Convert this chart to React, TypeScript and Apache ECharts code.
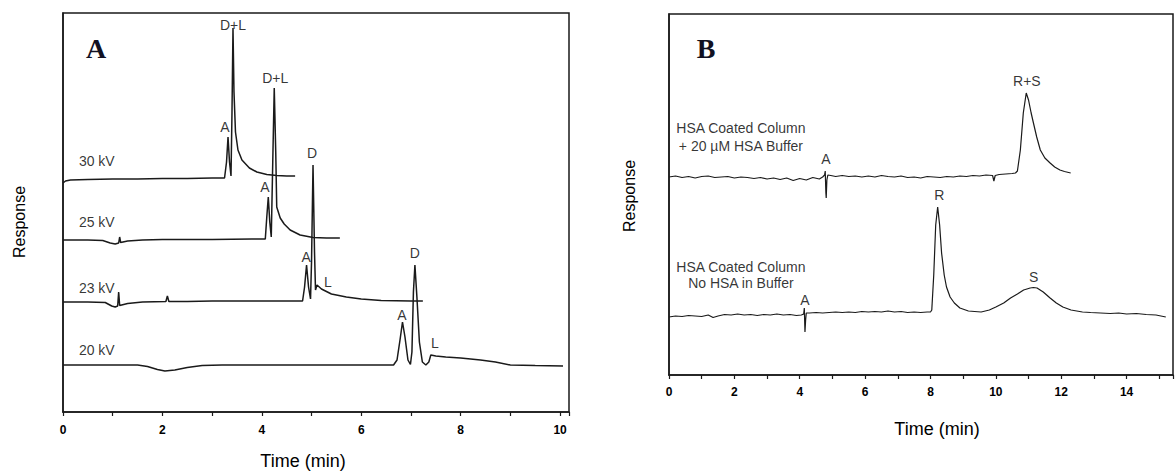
import React, { useEffect, useRef } from "react";
import * as echarts from "echarts";

// ---------- Panel A (time in min, response in arbitrary units) ----------
const trace30kV: [number, number][] = [
  [0, 229], [0.05, 231], [0.15, 232], [0.5, 232.5], [1.0, 233], [1.5, 233], [2.0, 233.5],
  [2.5, 233.5], [3.0, 234], [3.25, 234], [3.29, 250], [3.32, 275], [3.35, 250], [3.38, 236],
  [3.4, 300], [3.42, 384], [3.44, 320], [3.47, 280], [3.52, 262], [3.6, 252], [3.75, 244],
  [3.9, 240], [4.1, 237.5], [4.3, 236.5], [4.5, 236], [4.67, 236],
];
const trace25kV: [number, number][] = [
  [0, 172], [0.5, 172], [0.8, 171.5], [0.95, 169], [1.05, 168], [1.12, 169], [1.14, 175],
  [1.16, 169.5], [1.3, 171], [1.6, 172], [2, 172.5], [3, 172.5], [3.8, 173], [4.07, 173],
  [4.1, 195], [4.13, 215], [4.16, 190], [4.19, 175], [4.22, 250], [4.25, 324], [4.28, 260],
  [4.3, 205], [4.37, 194], [4.45, 188], [4.57, 182], [4.77, 177], [5.03, 174.5], [5.3, 174],
  [5.57, 174],
];
const trace23kV: [number, number][] = [
  [0, 110], [0.5, 110], [0.85, 109.5], [0.98, 106], [1.05, 105], [1.1, 106], [1.12, 120],
  [1.14, 106.5], [1.3, 108.5], [1.6, 110], [2.07, 110.5], [2.1, 116], [2.13, 110.5],
  [2.5, 110.5], [3, 111], [4, 111], [4.82, 111], [4.86, 125], [4.9, 147], [4.94, 125],
  [4.98, 113], [5.0, 150], [5.03, 247], [5.06, 160], [5.08, 122], [5.11, 127], [5.2, 123],
  [5.4, 118], [5.7, 115], [6.0, 113], [6.4, 111.5], [7.0, 111], [7.24, 111],
];
const trace20kV: [number, number][] = [
  [0, 47], [0.5, 47], [1.0, 47], [1.5, 47], [1.7, 45.5], [1.9, 42.5], [2.05, 41], [2.25, 42],
  [2.5, 44.5], [2.8, 46.5], [3.2, 47], [4, 47], [5, 47], [6, 47], [6.65, 47], [6.72, 52],
  [6.78, 72], [6.83, 90], [6.88, 75], [6.94, 52], [6.99, 47.5], [7.02, 60], [7.05, 120],
  [7.08, 147], [7.12, 115], [7.17, 70], [7.23, 50], [7.3, 47], [7.36, 50], [7.4, 57],
  [7.5, 56], [7.7, 55], [8.0, 54], [8.4, 52], [8.7, 50], [9.0, 47], [9.5, 46.5], [10.06, 46],
];
const notesA: { name: string; value: [number, number]; align: string }[] = [
  { name: "D+L", value: [3.42, 387], align: "center" },
  { name: "A", value: [3.26, 285], align: "center" },
  { name: "D+L", value: [4.27, 334], align: "center" },
  { name: "A", value: [4.06, 225], align: "center" },
  { name: "D", value: [5.01, 259], align: "center" },
  { name: "A", value: [4.89, 155], align: "center" },
  { name: "L", value: [5.33, 130], align: "center" },
  { name: "A", value: [6.82, 97], align: "center" },
  { name: "D", value: [7.08, 159], align: "center" },
  { name: "L", value: [7.48, 69], align: "center" },
  { name: "30 kV", value: [0.32, 251], align: "left" },
  { name: "25 kV", value: [0.32, 190], align: "left" },
  { name: "23 kV", value: [0.32, 124], align: "left" },
  { name: "20 kV", value: [0.32, 62], align: "left" },
];

// ---------- Panel B ----------
const traceWithHSA: [number, number][] = [
  [0, 198], [0.2, 199], [0.4, 197.5], [0.6, 198.5], [0.8, 197], [1.0, 198.5], [1.2, 199],
  [1.4, 197.5], [1.6, 198], [1.8, 198.5], [2.0, 197], [2.2, 198], [2.4, 197.5], [2.6, 196.5],
  [2.8, 197.5], [3.0, 196], [3.2, 197], [3.4, 195.5], [3.6, 197], [3.8, 194.5], [4.0, 196.5],
  [4.2, 195], [4.4, 197.5], [4.6, 196], [4.7, 198], [4.76, 200], [4.78, 204], [4.8, 182],
  [4.81, 177], [4.83, 195], [4.86, 200], [4.95, 199.5], [5.1, 198.5], [5.3, 199.5],
  [5.5, 198.5], [5.7, 199], [5.9, 198], [6.1, 199], [6.3, 198], [6.5, 199.5], [6.7, 198.5],
  [6.9, 198], [7.1, 199], [7.3, 197.5], [7.5, 198], [7.7, 197], [7.9, 198.5], [8.1, 198],
  [8.3, 197.5], [8.5, 198.5], [8.7, 198], [8.9, 199], [9.1, 198.5], [9.3, 199.5], [9.5, 199],
  [9.7, 200], [9.9, 199.5], [9.94, 194], [9.98, 199.5], [10.1, 200.5], [10.3, 201],
  [10.5, 201.5], [10.6, 202], [10.66, 204], [10.75, 225], [10.84, 262], [10.93, 282],
  [11.0, 275], [11.08, 262], [11.15, 252], [11.25, 238], [11.36, 225], [11.5, 217],
  [11.66, 212], [11.8, 208], [11.96, 205], [12.1, 203.5], [12.29, 202],
];
const traceNoHSA: [number, number][] = [
  [0, 58], [0.2, 59], [0.4, 58.5], [0.6, 59.5], [0.8, 59], [1.0, 58.5], [1.2, 60], [1.35, 57.5],
  [1.5, 59], [1.7, 60.5], [1.9, 60], [2.1, 61], [2.3, 60], [2.5, 60.5], [2.7, 59.5], [2.9, 60.5],
  [3.1, 60], [3.3, 61], [3.5, 60], [3.7, 60.5], [3.9, 59.5], [4.05, 60], [4.12, 61], [4.14, 67],
  [4.16, 43], [4.18, 55], [4.2, 62], [4.3, 62], [4.5, 62.5], [4.7, 62], [4.9, 62.5], [5.1, 63],
  [5.3, 62.5], [5.5, 63], [5.7, 62.5], [5.9, 63.5], [6.1, 63], [6.3, 63.5], [6.5, 63], [6.7, 64],
  [6.9, 63], [7.1, 63.5], [7.3, 62.5], [7.5, 63], [7.7, 62.5], [7.9, 63], [8.0, 63], [8.04, 65],
  [8.1, 100], [8.16, 150], [8.22, 168], [8.28, 150], [8.34, 122], [8.42, 100], [8.49, 88],
  [8.6, 78], [8.73, 72], [8.9, 67], [9.16, 64], [9.35, 63.5], [9.55, 63], [9.8, 65], [10.0, 68],
  [10.24, 72], [10.45, 77], [10.66, 81], [10.85, 85], [11.05, 87], [11.15, 87.5], [11.26, 87],
  [11.45, 83], [11.66, 77], [11.85, 72], [12.05, 68], [12.3, 65], [12.65, 63], [12.9, 62.5],
  [13.2, 62], [13.5, 61.5], [13.76, 62], [14.0, 61], [14.3, 61.5], [14.6, 60.5], [14.9, 60],
  [15.2, 58],
];
const notesB: { name: string; value: [number, number]; align: string }[] = [
  { name: "HSA Coated Column", value: [2.2, 247], align: "center" },
  { name: "+ 20 µM HSA Buffer", value: [2.2, 229], align: "center" },
  { name: "A", value: [4.8, 216], align: "center" },
  { name: "R+S", value: [10.95, 294], align: "center" },
  { name: "HSA Coated Column", value: [2.2, 108], align: "center" },
  { name: "No HSA in Buffer", value: [2.2, 92], align: "center" },
  { name: "A", value: [4.16, 75], align: "center" },
  { name: "R", value: [8.27, 180], align: "center" },
  { name: "S", value: [11.16, 98], align: "center" },
];

const SANS = "'Liberation Sans', Arial, Helvetica, sans-serif";
const SERIF = "'Liberation Serif', 'Times New Roman', serif";
const INK = "#1a1a1a";

function evenLabel(v: number) {
  return Number.isInteger(v) && v % 2 === 0 ? String(v) : "";
}

export default function App() {
  const ref = useRef<HTMLDivElement>(null);
  useEffect(() => {
    document.body.style.margin = "0";
    const chart = echarts.init(ref.current!, null, { renderer: "svg" });
    const xAxisCommon = {
      type: "value",
      interval: 1,
      axisLine: { show: true, onZero: false, lineStyle: { color: INK, width: 1.5 } },
      axisTick: { show: true, inside: false, length: 4, lineStyle: { color: INK, width: 1.2 } },
      axisLabel: { color: "#000", fontSize: 12, fontWeight: "bold", fontFamily: SANS, formatter: evenLabel },
      splitLine: { show: false },
    };
    const yAxisCommon = {
      type: "value",
      axisLine: { show: true, lineStyle: { color: INK, width: 1.5 } },
      axisTick: { show: false },
      axisLabel: { show: false },
      splitLine: { show: false },
    };
    const lineSeries = (data: [number, number][], idx: number, w: number) => ({
      type: "line",
      xAxisIndex: idx,
      yAxisIndex: idx,
      data,
      showSymbol: false,
      symbol: "none",
      lineStyle: { color: INK, width: w },
      silent: true,
      clip: false,
    });
    const noteSeries = (notes: typeof notesA, idx: number) => ({
      type: "scatter",
      xAxisIndex: idx,
      yAxisIndex: idx,
      symbolSize: 0,
      silent: true,
      data: notes.map((n) => ({
        name: n.name,
        value: n.value,
        label: {
          show: true,
          position: "inside",
          formatter: "{b}",
          align: n.align,
          verticalAlign: "middle",
          color: "#000",
          fontSize: 14,
          fontFamily: SANS,
        },
      })),
    });
    chart.setOption({
      animation: false,
      backgroundColor: "#fff",
      grid: [
        { left: 63, top: 13, width: 506, height: 399, show: true, borderColor: INK, borderWidth: 1.5, backgroundColor: "transparent" },
        { left: 669, top: 14, width: 511, height: 361, show: true, borderColor: INK, borderWidth: 1.5, backgroundColor: "transparent" },
      ],
      xAxis: [
        { ...xAxisCommon, gridIndex: 0, min: 0, max: 10.18, axisLabel: { ...xAxisCommon.axisLabel, margin: 12 } },
        { ...xAxisCommon, gridIndex: 1, min: 0, max: 15.42, axisLabel: { ...xAxisCommon.axisLabel, margin: 11 } },
      ],
      yAxis: [
        { ...yAxisCommon, gridIndex: 0, min: 0, max: 399 },
        { ...yAxisCommon, gridIndex: 1, min: 0, max: 361 },
      ],
      series: [
        lineSeries(trace30kV, 0, 1.5),
        lineSeries(trace25kV, 0, 1.5),
        lineSeries(trace23kV, 0, 1.5),
        lineSeries(trace20kV, 0, 1.5),
        noteSeries(notesA, 0),
        lineSeries(traceWithHSA, 1, 1.2),
        lineSeries(traceNoHSA, 1, 1.2),
        noteSeries(notesB, 1),
      ],
      graphic: [
        { type: "text", x: 96, y: 48, style: { text: "A", font: `bold 28px ${SERIF}`, fill: "#111122", textAlign: "center", textVerticalAlign: "middle" } },
        { type: "text", x: 706, y: 48, style: { text: "B", font: `bold 28px ${SERIF}`, fill: "#111122", textAlign: "center", textVerticalAlign: "middle" } },
        { type: "text", x: 19, y: 222, rotation: Math.PI / 2, style: { text: "Response", font: `16px ${SANS}`, fill: "#000", textAlign: "center", textVerticalAlign: "middle" } },
        { type: "text", x: 629, y: 196, rotation: Math.PI / 2, style: { text: "Response", font: `16px ${SANS}`, fill: "#000", textAlign: "center", textVerticalAlign: "middle" } },
        { type: "text", x: 303, y: 461, style: { text: "Time (min)", font: `18px ${SANS}`, fill: "#000", textAlign: "center", textVerticalAlign: "middle" } },
        { type: "text", x: 937, y: 429, style: { text: "Time (min)", font: `18px ${SANS}`, fill: "#000", textAlign: "center", textVerticalAlign: "middle" } },
      ],
    });
    return () => chart.dispose();
  }, []);
  return <div ref={ref} style={{ width: 1176, height: 472 }} />;
}
